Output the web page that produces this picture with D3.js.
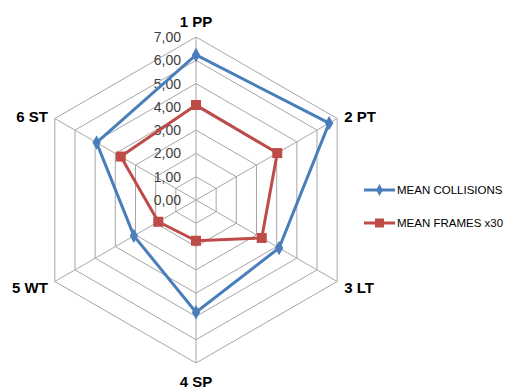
<!DOCTYPE html>
<html><head><meta charset="utf-8">
<script src="https://cdn.jsdelivr.net/npm/d3@7"></script>
<style>body{margin:0;background:#fff;}svg{display:block;}</style>
</head><body>
<svg id="c" width="512" height="392"></svg>
<script>
const categories = ["1 PP","2 PT","3 LT","4 SP","5 WT","6 ST"];
const seriesNames = ["MEAN COLLISIONS","MEAN FRAMES x30"];
const collisions = [6.23, 6.60, 4.12, 4.82, 3.08, 4.93];
const frames = [4.08, 4.03, 3.26, 1.75, 1.87, 3.73];
const tickValues = [0,1,2,3,4,5,6,7];
const tickLabels = ["0,00","1,00","2,00","3,00","4,00","5,00","6,00","7,00"];
const colors = ["#4a7ebb","#be4b48"];

const svg = d3.select("#c");
const cx = 196, cy = 200, R = 163;
const r = d3.scaleLinear().domain([0,7]).range([0,R]);
const ang = d3.scalePoint().domain(categories).range([0, 2*Math.PI*5/6]);
const pt = (c,v)=>[cx + r(v)*Math.sin(ang(c)), cy - r(v)*Math.cos(ang(c))];

const g = svg.append("g");
// grid rings
tickValues.filter(v=>v>0).forEach(v=>{
  g.append("path").attr("d", d3.line()(categories.map(c=>pt(c,v))) + "Z")
   .attr("fill","none").attr("stroke","#a6a6a6").attr("stroke-width",1);
});
// spokes
categories.forEach(c=>{
  const [x,y]=pt(c,7);
  g.append("line").attr("x1",cx).attr("y1",cy).attr("x2",x).attr("y2",y)
   .attr("stroke","#a6a6a6").attr("stroke-width",1);
});
// tick labels
tickValues.forEach((v,i)=>{
  g.append("text").attr("x",181).attr("y",cy - r(v)).attr("dy","0.36em")
   .attr("text-anchor","end").attr("font-family","Liberation Sans, Arial, sans-serif")
   .attr("font-size",14).attr("fill","#404040").text(tickLabels[i]);
});
// category labels
const labelPos = {
  "1 PP":{dx:0,dy:-15,anchor:"middle"},
  "2 PT":{dx:7,dy:-2,anchor:"start"},
  "3 LT":{dx:7,dy:6,anchor:"start"},
  "4 SP":{dx:0,dy:19,anchor:"middle"},
  "5 WT":{dx:-7,dy:6,anchor:"end"},
  "6 ST":{dx:-7,dy:-2,anchor:"end"}
};
categories.forEach(c=>{
  const [x,y]=pt(c,7); const p=labelPos[c];
  g.append("text").attr("x",x+p.dx).attr("y",y+p.dy).attr("dy","0.36em")
   .attr("text-anchor",p.anchor).attr("font-family","Liberation Sans, Arial, sans-serif")
   .attr("font-weight","bold").attr("font-size",15).attr("fill","#000").text(c);
});
// series
const data=[collisions, frames];
data.forEach((vals,si)=>{
  const pts = categories.map((c,i)=>pt(c,vals[i]));
  g.append("path").attr("d", d3.line()(pts)+"Z").attr("fill","none")
   .attr("stroke",colors[si]).attr("stroke-width",3).attr("stroke-linejoin","round");
  if(si===0){
    g.selectAll(null).data(pts).enter().append("path")
     .attr("d", d3.symbol(d3.symbolDiamond, 60)())
     .attr("transform",d=>`translate(${d[0]},${d[1]})`).attr("fill",colors[si]);
  } else {
    g.selectAll(null).data(pts).enter().append("rect")
     .attr("x",d=>d[0]-5).attr("y",d=>d[1]-5).attr("width",10).attr("height",10)
     .attr("fill",colors[si]);
  }
});
// legend
seriesNames.forEach((n,i)=>{
  const y = 190 + i*33;
  const lg = svg.append("g");
  lg.append("line").attr("x1",364).attr("x2",395).attr("y1",y).attr("y2",y)
    .attr("stroke",colors[i]).attr("stroke-width",3);
  if(i===0){
    lg.append("path").attr("d", d3.symbol(d3.symbolDiamond, 40)())
      .attr("transform",`translate(379.5,${y})`).attr("fill",colors[i]);
  } else {
    lg.append("rect").attr("x",375).attr("y",y-4.5).attr("width",9).attr("height",9).attr("fill",colors[i]);
  }
  lg.append("text").attr("x",397).attr("y",y).attr("dy","0.36em")
    .attr("font-family","Liberation Sans, Arial, sans-serif").attr("font-size",11.5)
    .attr("fill","#000").text(n);
});
</script>
</body></html>
